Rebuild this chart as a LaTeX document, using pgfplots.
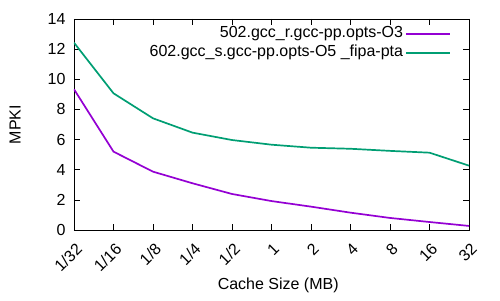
\documentclass[border=0pt]{standalone}
\usepackage{pgfplots}
\pgfplotsset{compat=1.18}
\usepackage{fontspec}
\setmainfont{Liberation Sans}
\definecolor{gpPurple}{HTML}{9400D3}
\definecolor{gpGreen}{HTML}{009E73}
\newcommand{\gpfont}{\fontsize{16}{19}\selectfont}
\begin{document}
\begin{tikzpicture}[x=1pt,y=1pt]
\path[use as bounding box] (-74,-70) rectangle (426,230);
\begin{axis}[
  at={(0,0)}, anchor=south west,
  scale only axis, width=395pt, height=211pt,
  xmin=0, xmax=10, ymin=0, ymax=14,
  xtick={0,...,10},
  xticklabels={1/32,1/16,1/8,1/4,1/2,1,2,4,8,16,32},
  ytick={0,2,...,14},
  tick align=inside,
  major tick length=6pt,
  axis line style={line width=0.9pt},
  every tick/.style={black, line width=0.7pt},
  /pgf/number format/assume math mode=true,
  xticklabel style={font=\gpfont, xshift=1pt, yshift=-12pt, rotate=45, anchor=north east, inner sep=0pt},
  yticklabel style={font=\gpfont, xshift=-5pt},
  yticklabel={\gpfont\pgfmathprintnumber{\tick}},
  xlabel={\gpfont Cache Size (MB)},
  ylabel={\gpfont MPKI},
  xlabel style={font=\gpfont, at={(axis description cs:0.517,0)}, anchor=center, yshift=-55pt},
  ylabel style={font=\gpfont, at={(axis description cs:-0.149,0.5)}, anchor=center},
  legend cell align=right,
  legend plot pos=right,
  legend style={draw=none, fill=none, at={(1,1)}, anchor=north east, xshift=-15pt, yshift=-5pt,
    row sep=3.5pt, font=\gpfont,
    nodes={inner ysep=0pt, text height=11.5pt, text depth=4pt}},
  legend image code/.code={\draw[#1] (0pt,0pt) -- (44pt,0pt);},
]
\addplot[gpPurple, line width=1.7pt] coordinates {
(0,9.34) (1,5.2) (2,3.87) (3,3.1) (4,2.39) (5,1.92) (6,1.55) (7,1.15) (8,0.8) (9,0.53) (10,0.27)};
\addlegendentry{502.gcc\_r.gcc-pp.opts-O3\hspace{8pt}}
\addplot[gpGreen, line width=1.7pt] coordinates {
(0,12.43) (1,9.07) (2,7.41) (3,6.46) (4,5.97) (5,5.66) (6,5.46) (7,5.39) (8,5.25) (9,5.13) (10,4.27)};
\addlegendentry{602.gcc\_s.gcc-pp.opts-O5 \_fipa-pta\hspace{8pt}}
\end{axis}
\end{tikzpicture}
\end{document}
